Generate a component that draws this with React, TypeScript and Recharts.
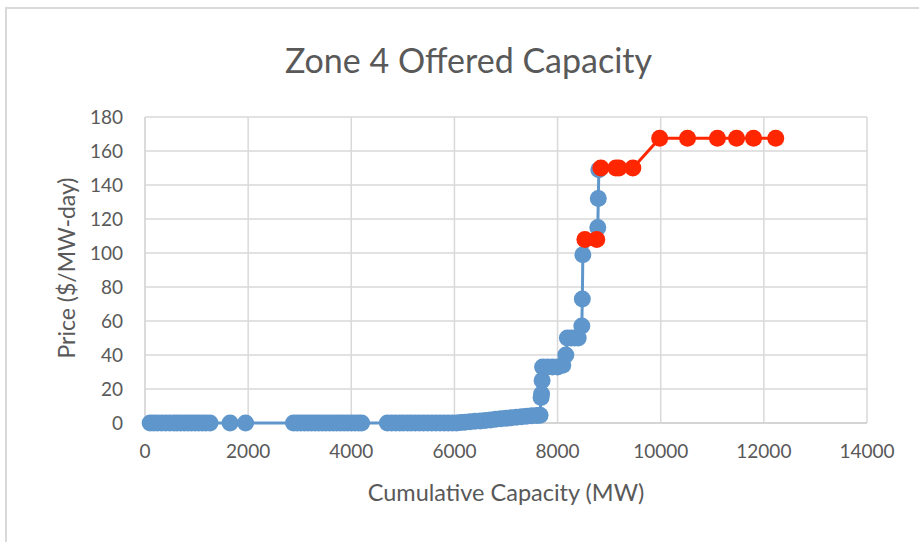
import { ScatterChart, Scatter, XAxis, YAxis, CartesianGrid } from 'recharts'

// offered blocks below the clearing point (MW, $/MW-day)
const blueCapacity = [
  100, 170, 240, 320, 400, 480, 560, 620, 690, 760, 830, 900, 970, 1040, 1110, 1180, 1260, 1650, 1950,
  2880, 2950, 3020, 3090, 3160, 3230, 3300, 3370, 3440, 3510, 3580, 3650, 3720, 3790, 3860, 3930, 4000, 4070, 4140, 4200,
  4700, 4780, 4860, 4940, 5010, 5090, 5160, 5240, 5320, 5400, 5480, 5560, 5640, 5720, 5800, 5880, 5960, 6040, 6120, 6200,
  6300, 6400, 6500, 6600, 6700, 6800, 6900, 7000, 7100, 7200, 7300, 7400, 7500, 7600, 7660,
  7680, 7690, 7700, 7710, 7800, 7900, 8000, 8100, 8160, 8190, 8260, 8330, 8400, 8470, 8480, 8490,
  8780, 8790, 8800,
]
const bluePrice = [
  0, 0, 0, 0, 0, 0, 0, 0, 0, 0, 0, 0, 0, 0, 0, 0, 0, 0, 0,
  0, 0, 0, 0, 0, 0, 0, 0, 0, 0, 0, 0, 0, 0, 0, 0, 0, 0, 0, 0,
  0, 0, 0, 0, 0, 0, 0, 0, 0, 0, 0, 0, 0, 0, 0, 0, 0, 0, 0.3, 0.5,
  0.8, 1, 1.2, 1.5, 1.8, 2.2, 2.5, 2.8, 3.1, 3.4, 3.7, 4, 4.2, 4.4, 4.6,
  15, 17, 25, 33, 33, 33, 33, 34, 40, 50, 50, 50, 50, 57, 73, 99,
  115, 132, 149,
]

// offered blocks above the clearing point
const redLowCapacity = [8530, 8760]
const redLowPrice = [108, 108]
const redCapacity = [8840, 9130, 9190, 9460, 9980, 10520, 11100, 11470, 11800, 12230]
const redPrice = [150, 150, 150, 150, 167.5, 167.5, 167.5, 167.5, 167.5, 167.5]

const xTicks = [0, 2000, 4000, 6000, 8000, 10000, 12000, 14000]
const yTicks = [0, 20, 40, 60, 80, 100, 120, 140, 160, 180]

const BLUE = '#5f96cb'
const RED = '#ff2600'
const TEXT = '#595959'
const FONT = 'Lato, "Open Sans", sans-serif'

const blueData = blueCapacity.map((x, i) => ({ x, y: bluePrice[i] }))
const redLowData = redLowCapacity.map((x, i) => ({ x, y: redLowPrice[i] }))
const redData = redCapacity.map((x, i) => ({ x, y: redPrice[i] }))

const dot = (fill: string) => (props: any) => (
  <circle cx={props.cx} cy={props.cy} r={8.5} fill={fill} />
)

export default function App() {
  return (
    <div style={{ position: 'absolute', left: 0, top: 0, width: 919, height: 542, background: '#fff', fontFamily: FONT }}>
      <div style={{ position: 'absolute', left: 5, top: 7, width: 914, height: 535, borderLeft: '2px solid #d9d9d9', borderTop: '2px solid #d9d9d9' }} />
      <div style={{ position: 'absolute', left: 0, top: 39, width: 937, textAlign: 'center', fontSize: 34, color: TEXT }}>
        Zone 4 Offered Capacity
      </div>
      <div style={{ position: 'absolute', left: 0, top: 478, width: 1012, textAlign: 'center', fontSize: 23.5, color: TEXT }}>
        Cumulative Capacity (MW)
      </div>
      <div style={{ position: 'absolute', left: 66, top: 270, width: 0, height: 0 }}>
        <div style={{ position: 'absolute', left: -150, top: -16, width: 300, textAlign: 'center', fontSize: 23, color: TEXT, transform: 'rotate(-90deg)', whiteSpace: 'nowrap' }}>
          Price ($/MW-day)
        </div>
      </div>
      <div style={{ position: 'absolute', left: 0, top: 0 }}>
        <ScatterChart width={919} height={542} margin={{ top: 117, right: 52, bottom: 79, left: 0 }}>
          <CartesianGrid stroke="#d9d9d9" strokeWidth={1.5} />
          <XAxis
            type="number"
            dataKey="x"
            domain={[0, 14000]}
            ticks={xTicks}
            height={40}
            tickLine={false}
            tickSize={0}
            tickMargin={22}
            axisLine={{ stroke: '#d0d0d0', strokeWidth: 1.5 }}
            tick={{ fill: TEXT, fontSize: 19, fontFamily: FONT }}
          />
          <YAxis
            type="number"
            dataKey="y"
            domain={[0, 180]}
            ticks={yTicks}
            width={145}
            tickLine={false}
            tickSize={0}
            tickMargin={22}
            axisLine={{ stroke: '#d9d9d9', strokeWidth: 1.5 }}
            tick={{ fill: TEXT, fontSize: 19, fontFamily: FONT }}
          />
          <Scatter
            data={blueData}
            fill={BLUE}
            line={{ stroke: BLUE, strokeWidth: 3 }}
            lineType="joint"
            shape={dot(BLUE)}
            isAnimationActive={false}
          />
          <Scatter
            data={redLowData}
            fill={RED}
            line={{ stroke: RED, strokeWidth: 3 }}
            lineType="joint"
            shape={dot(RED)}
            isAnimationActive={false}
          />
          <Scatter
            data={redData}
            fill={RED}
            line={{ stroke: RED, strokeWidth: 3 }}
            lineType="joint"
            shape={dot(RED)}
            isAnimationActive={false}
          />
        </ScatterChart>
      </div>
    </div>
  )
}
